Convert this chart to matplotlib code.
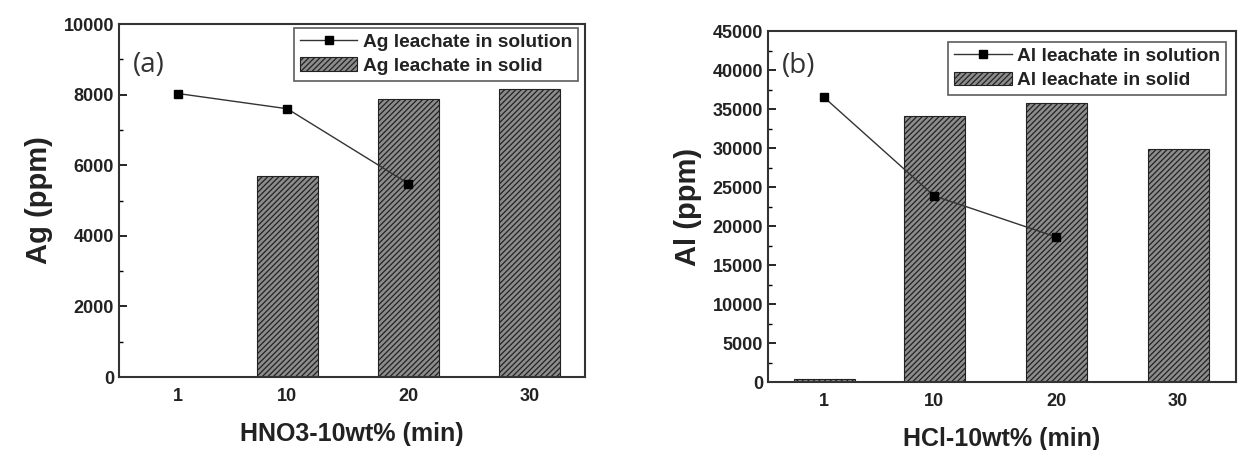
import matplotlib
matplotlib.use("Agg")
import matplotlib.pyplot as plt
from matplotlib.ticker import MultipleLocator

plt.rcParams['font.family'] = ['Liberation Sans', 'DejaVu Sans']
plt.rcParams['hatch.color'] = '#222222'
plt.rcParams['hatch.linewidth'] = 0.9

# Data
times = [1, 10, 20, 30]
tick_labels = ['1', '10', '20', '30']

ag_solid = [0, 5690, 7880, 8170]
ag_solution_t = [1, 10, 20]
ag_solution = [8030, 7600, 5480]

al_solid = [380, 34130, 35800, 29810]
al_solution_t = [1, 10, 20]
al_solution = [36480, 23870, 18600]

panels = [
    dict(pos=[0.0959, 0.1622, 0.3755, 0.7844], solid=ag_solid, sol_t=ag_solution_t, sol=ag_solution,
         ylim=(0, 10000), major=2000, minor=1000, ylabel='Ag (ppm)', xlabel='HNO3-10wt% (min)',
         tag='(a)', tagxy=(0.03, 0.885), xlim=(-3.9, 34.6),
         leg=['Ag leachate in solution', 'Ag leachate in solid'], legxy=(0.985, 0.99)),
    dict(pos=[0.6189, 0.1511, 0.3771, 0.78], solid=al_solid, sol_t=al_solution_t, sol=al_solution,
         ylim=(0, 45000), major=5000, minor=2500, ylabel='Al (ppm)', xlabel='HCl-10wt% (min)',
         tag='(b)', tagxy=(0.03, 0.9), xlim=(-3.6, 34.75),
         leg=['Al leachate in solution', 'Al leachate in solid'], legxy=(0.979, 0.969)),
]

fig = plt.figure(figsize=(12.41, 4.5), dpi=100)

for p in panels:
    ax = fig.add_axes(p['pos'])
    bars = ax.bar(times, p['solid'], width=5, facecolor='#8c8c8c', edgecolor='#222222',
                  hatch='//////', linewidth=0.8, label=p['leg'][1], zorder=2)
    line, = ax.plot(p['sol_t'], p['sol'], color='#333333', linewidth=1.0, marker='s',
                    markersize=5.5, markerfacecolor='black', markeredgecolor='black',
                    label=p['leg'][0], zorder=3)
    ax.set_xlim(*p['xlim'])
    ax.set_ylim(*p['ylim'])
    ax.set_xticks(times)
    ax.set_xticklabels(tick_labels)
    ax.yaxis.set_major_locator(MultipleLocator(p['major']))
    ax.yaxis.set_minor_locator(MultipleLocator(p['minor']))
    ax.tick_params(axis='y', which='major', direction='in', length=6, width=1.2, labelsize=13)
    ax.tick_params(axis='y', which='minor', direction='in', length=3, width=1.0)
    ax.tick_params(axis='x', which='major', length=0, labelsize=13, pad=8)
    for lbl in ax.get_xticklabels() + ax.get_yticklabels():
        lbl.set_fontweight('bold')
        lbl.set_color('#222222')
    for s in ax.spines.values():
        s.set_linewidth(1.5)
        s.set_color('#333333')
    ax.set_ylabel(p['ylabel'], fontsize=21, fontweight='bold', color='#222222', labelpad=8)
    ax.set_xlabel(p['xlabel'], fontsize=18, fontweight='bold', color='#222222', labelpad=12)
    ax.text(p['tagxy'][0], p['tagxy'][1], p['tag'], transform=ax.transAxes, fontsize=20,
            color='#333333', family=['Open Sans', 'DejaVu Sans'], va='center', ha='left')
    leg = ax.legend(handles=[line, bars], loc='upper right', bbox_to_anchor=p['legxy'],
                    fontsize=13.8, frameon=True, fancybox=False, edgecolor='#333333',
                    borderpad=0.3, handlelength=3.0, handletextpad=0.3, labelspacing=0.35,
                    borderaxespad=0)
    leg.get_frame().set_linewidth(1.2)
    for t in leg.get_texts():
        t.set_fontweight('bold')
        t.set_color('#222222')

fig.savefig('out.png', dpi=100)
